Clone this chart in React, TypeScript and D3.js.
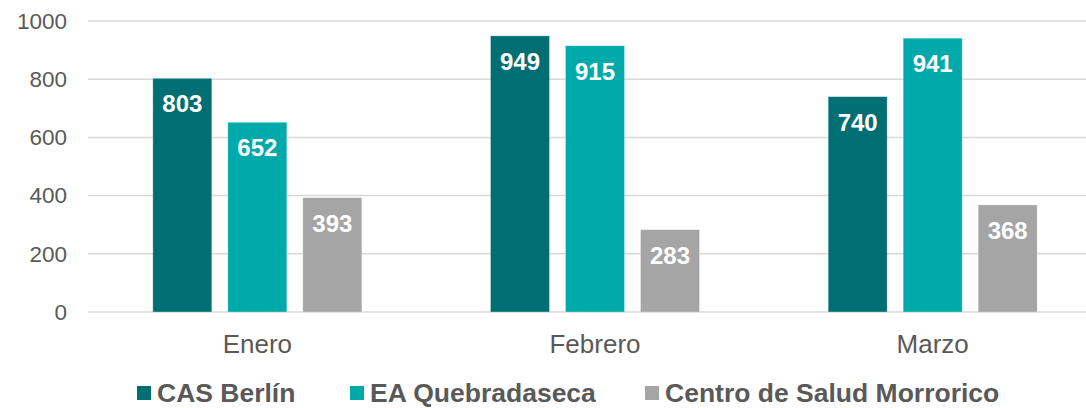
import React from "react";
import * as d3 from "d3";

const categories = ["Enero", "Febrero", "Marzo"];
const seriesNames = ["CAS Berlín", "EA Quebradaseca", "Centro de Salud Morrorico"];
const casBerlin = [803, 949, 740];
const eaQuebradaseca = [652, 915, 941];
const centroMorrorico = [393, 283, 368];
const yTicks = [0, 200, 400, 600, 800, 1000];
const colors = ["#006F73", "#00AAAA", "#A5A5A5"];

const W = 1086;
const H = 408;
const FONT = "'Liberation Sans', Arial, sans-serif";

export default function App() {
  const seriesValues = [casBerlin, eaQuebradaseca, centroMorrorico];
  const x0 = d3.scaleBand().domain(categories).range([88.5, 1101.5]).paddingInner(0).paddingOuter(0);
  const groupW = 209;
  const x1 = d3
    .scaleBand()
    .domain(seriesNames)
    .range([0, groupW])
    .paddingInner(16 / 75)
    .paddingOuter(0);
  const y = d3.scaleLinear().domain([0, 1000]).range([312, 21]);
  const legendX = [137, 350, 645];

  return (
    <svg width={W} height={H} style={{ position: "absolute", left: 0, top: 0, background: "#fff" }}>
      {yTicks.map((t) => (
        <g key={t}>
          <line x1={88} x2={W} y1={y(t)} y2={y(t)} stroke="#D9D9D9" strokeWidth={1.5} />
          <text x={67} y={y(t)} dy="0.35em" textAnchor="end" fontFamily={FONT} fontSize={22.5} fill="#595959">
            {t}
          </text>
        </g>
      ))}
      {categories.map((c, ci) => {
        const gx = x0(c)! + x0.bandwidth() / 2 - groupW / 2;
        return (
          <g key={c}>
            {seriesNames.map((s, si) => {
              const v = seriesValues[si][ci];
              const bx = gx + x1(s)!;
              return (
                <g key={s}>
                  <rect x={bx} y={y(v)} width={x1.bandwidth()} height={y(0) - y(v)} fill={colors[si]} stroke="#ffffff" strokeOpacity={0.4} strokeWidth={0.75} />
                  <text
                    x={bx + x1.bandwidth() / 2}
                    y={y(v) + 34}
                    textAnchor="middle"
                    fontFamily={FONT}
                    fontWeight="bold"
                    fontSize={24}
                    fill="#ffffff"
                  >
                    {v}
                  </text>
                </g>
              );
            })}
            <text
              x={x0(c)! + x0.bandwidth() / 2}
              y={353}
              textAnchor="middle"
              fontFamily={FONT}
              fontSize={26}
              fill="#595959"
            >
              {c}
            </text>
          </g>
        );
      })}
      {seriesNames.map((s, si) => (
        <g key={s}>
          <rect x={legendX[si]} y={386} width={14} height={14} fill={colors[si]} />
          <text x={legendX[si] + 20} y={402} fontFamily={FONT} fontWeight="bold" fontSize={26.5} fill="#595959">
            {s}
          </text>
        </g>
      ))}
    </svg>
  );
}
